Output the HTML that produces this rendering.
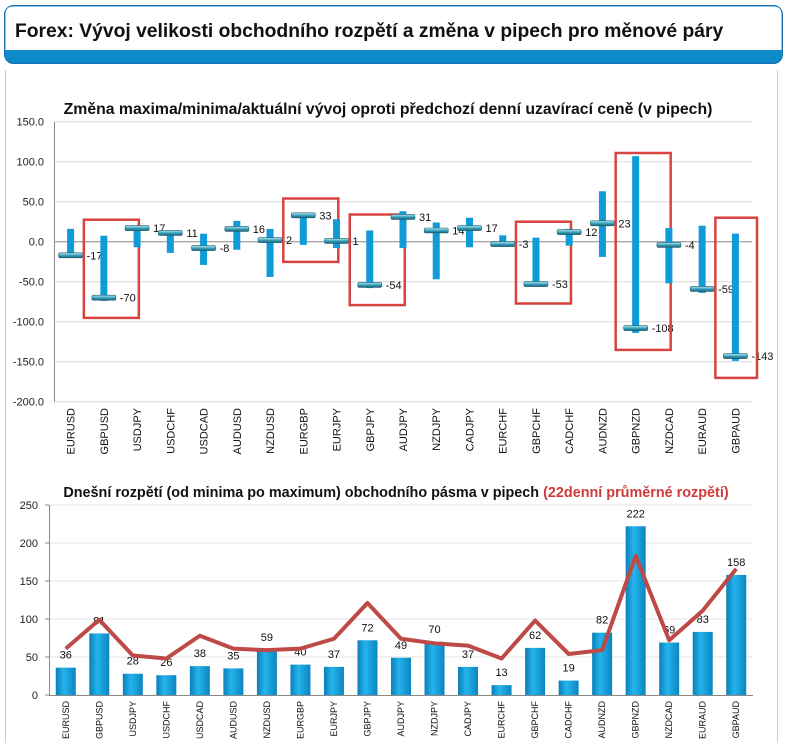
<!DOCTYPE html>
<html><head><meta charset="utf-8">
<style>
body{margin:0;width:790px;height:743px;background:#fff;overflow:hidden;font-family:"Liberation Sans",sans-serif;}
</style></head>
<body>
<svg id="s" width="790" height="743" xmlns="http://www.w3.org/2000/svg">
<defs>
<linearGradient id="capg" x1="0" y1="0" x2="0" y2="1"><stop offset="0" stop-color="#bfe6ee"/><stop offset="0.5" stop-color="#3aa7c2"/><stop offset="1" stop-color="#1b5e72"/></linearGradient>
<linearGradient id="barg" x1="0" y1="0" x2="1" y2="0"><stop offset="0" stop-color="#0a7fb8"/><stop offset="0.4" stop-color="#25b4ec"/><stop offset="1" stop-color="#0b85c0"/></linearGradient>
<linearGradient id="band" x1="0" y1="0" x2="0" y2="1"><stop offset="0" stop-color="#1a9ad6"/><stop offset="1" stop-color="#0b88c6"/></linearGradient>
</defs>
<g>
<rect x="4.5" y="5.5" width="778" height="58" rx="9" fill="url(#band)" stroke="#1a6fb0"/>
<path d="M5.5 50 V14 Q5.5 6.5 14 6.5 H773 Q781.5 6.5 781.5 14 V50 Z" fill="#fff"/>
<text x="15" y="37" font-size="19.3" font-weight="bold" fill="#111">Forex: Vývoj velikosti obchodního rozpětí a změna v pipech pro měnové páry</text>
</g>
<g>
<line x1="5.5" y1="70" x2="5.5" y2="743" stroke="#ccc"/>
<line x1="777.5" y1="70" x2="777.5" y2="743" stroke="#ccc"/>
</g>
<text x="388" y="114" font-size="15.8" font-weight="bold" text-anchor="middle" fill="#111">Změna maxima/minima/aktuální vývoj oproti předchozí denní uzavírací ceně (v pipech)</text>
<g id="top"></g>
<text x="396" y="497" font-size="14.4" font-weight="bold" text-anchor="middle" fill="#111">Dnešní rozpětí (od minima po maximum) obchodního pásma v pipech <tspan fill="#d03a3a">(22denní průměrné rozpětí)</tspan></text>
<g id="bot"></g>
</svg>
<script>
const pairs=["EURUSD","GBPUSD","USDJPY","USDCHF","USDCAD","AUDUSD","NZDUSD","EURGBP","EURJPY","GBPJPY","AUDJPY","NZDJPY","CADJPY","EURCHF","GBPCHF","CADCHF","AUDNZD","GBPNZD","NZDCAD","EURAUD","GBPAUD"];
const highs=[16,7.5,20,13,10,26,16,34,28,14,38,24,30,8,5,16,63,107,17,20,10];
const lows=[-20,-74,-7,-14,-29,-10,-44,-4,-8,-58,-8,-47,-7,-4,-56,-5,-19,-114,-52,-64,-149];
const closes=[-17,-70,17,11,-8,16,2,33,1,-54,31,14,17,-3,-53,12,23,-108,-4,-59,-143];
const highlighted=["GBPUSD","EURGBP","GBPJPY","GBPCHF","GBPNZD","GBPAUD"];
const topTicks=[150,100,50,0,-50,-100,-150,-200];
const ranges=[36,81,28,26,38,35,59,40,37,72,49,70,37,13,62,19,82,222,69,83,158];
const avg22=[61,99,52,48,78,61,59,61,74,121,74,68,65,48,98,54,59,183,72,111,166];
const botTicks=[250,200,150,100,50,0];

const NS="http://www.w3.org/2000/svg";
function mk(p,tag,a,txt){const e=document.createElementNS(NS,tag);for(const k in a)e.setAttribute(k,a[k]);if(txt!==undefined)e.textContent=txt;p.appendChild(e);return e;}

const T=document.getElementById('top');
const tx0=54,tx1=752,ty=v=>241.7-v*0.8;
const tbw=(tx1-tx0)/pairs.length, tcx=i=>tx0+tbw*(i+0.5);
topTicks.forEach(v=>{
  if(v!==0){const g=mk(T,'line',{x1:tx0,x2:tx1,y1:ty(v),y2:ty(v),stroke:'#d9d9d9'});}
  const t=mk(T,'text',{x:44,y:ty(v)+4,'font-size':11,'text-anchor':'end',fill:'#222'},v.toFixed(1));
  
});
mk(T,'line',{x1:tx0+0.5,x2:tx0+0.5,y1:ty(150),y2:ty(-200),stroke:'#888'});
const z=mk(T,'line',{x1:tx0,x2:tx1,y1:ty(0),y2:ty(0),stroke:'#888'});

pairs.forEach((p,i)=>{
  const c=tcx(i);
  const b=mk(T,'rect',{x:c-3.5,y:ty(highs[i]),width:7,height:ty(lows[i])-ty(highs[i]),fill:'#0f9ad8'});
  
  const k=mk(T,'rect',{x:c-12,y:ty(closes[i])-2.5,width:24,height:5,rx:1.5,fill:'url(#capg)',stroke:'#1d5f70','stroke-width':0.6});
  
  const l=mk(T,'text',{x:c+16,y:ty(closes[i])+4,'font-size':11,fill:'#111'},String(closes[i]));
  
  const xl=mk(T,'text',{transform:`translate(${c+4},408) rotate(-90)`,'font-size':11,'text-anchor':'end',fill:'#111'},p);
  
  if(highlighted.includes(p)){
    const top=Math.max(Math.min(ty(highs[i]),ty(closes[i]))-16,153), bot=Math.max(ty(lows[i]),ty(closes[i]))+17;
    const left=c-20, right=Math.min(c+35,tx1+5);
    const r=mk(T,'rect',{x:left,y:top,width:right-left,height:bot-top,fill:'none',stroke:'#d9433f','stroke-width':2.5});
    
  }
});

const B=document.getElementById('bot');
const bx0=49,bx1=753,by=v=>695-v*0.76;
const bbw=(bx1-bx0)/pairs.length, bcx=i=>bx0+bbw*(i+0.5);
botTicks.forEach(v=>{
  if(v!==0){const g=mk(B,'line',{x1:bx0,x2:bx1,y1:by(v),y2:by(v),stroke:'#e3e3e3'});}
  const t=mk(B,'text',{x:38,y:by(v)+4,'font-size':11,'text-anchor':'end',fill:'#222'},String(v));
  
  mk(B,'line',{x1:bx0-4,x2:bx0,y1:by(v),y2:by(v),stroke:'#888'});
});
mk(B,'line',{x1:bx0+0.5,x2:bx0+0.5,y1:by(250),y2:by(0),stroke:'#888'});
mk(B,'line',{x1:bx0,x2:bx1,y1:by(0)+0.5,y2:by(0)+0.5,stroke:'#888'});
pairs.forEach((p,i)=>{
  const c=bcx(i);
  const r=mk(B,'rect',{x:c-10,y:by(ranges[i]),width:20,height:by(0)-by(ranges[i]),fill:'url(#barg)'});
  
  const l=mk(B,'text',{x:c,y:by(ranges[i])-9,'font-size':11,'text-anchor':'middle',fill:'#111'},String(ranges[i]));
  
  const xl=mk(B,'text',{transform:`translate(${c+3},701) rotate(-90)`,'font-size':9,'text-anchor':'end',fill:'#111'},p);
  
});
const pts=avg22.map((v,i)=>bcx(i)+','+by(v)).join(' ');
const line=mk(B,'polyline',{points:pts,fill:'none',stroke:'#bd4a47','stroke-width':4,'stroke-linejoin':'round'});


</script>
</body></html>
